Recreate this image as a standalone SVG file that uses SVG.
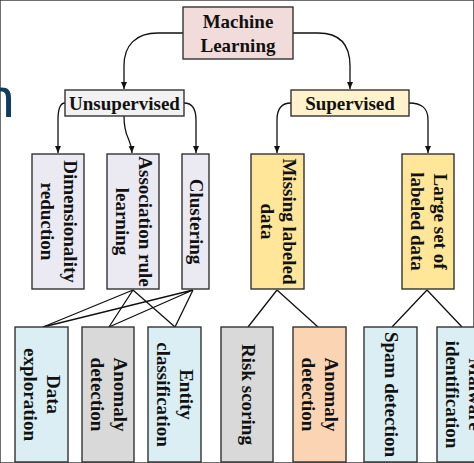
<svg xmlns="http://www.w3.org/2000/svg" width="474" height="463" viewBox="0 0 474 463">
<defs>
<marker id="arr" markerUnits="userSpaceOnUse" markerWidth="8" markerHeight="8" viewBox="0 0 8 8" refX="7" refY="4" orient="auto">
<path d="M0,1 L7,4 L0,7 Z" fill="#111"/>
</marker>
<style>
rect{stroke:#333;stroke-width:1.4}
text{font-family:"Liberation Serif","Times New Roman",serif;font-weight:bold;font-size:19px;fill:#111;text-anchor:middle}
.c path{fill:none;stroke:#111;stroke-width:1.3}
.ml{fill:#f2dcdb}.un{fill:#f2f2f2}.su{fill:#fff2cc}.lv{fill:#ebe9f1}.gd{fill:#ffe699}.bl{fill:#daeef3}.gy{fill:#d9d9d9}.pc{fill:#fbd4b4}
</style>
</defs>
<rect width="474" height="463" fill="#fff" stroke="none"/>
<text x="-16.5" y="117" style="font-family:'Liberation Sans',Arial,sans-serif;font-weight:normal;font-size:56px;fill:#0f3c5f;text-anchor:start">n</text>
<g class="c" id="connectors">
<path d="M183,33 L158,33 C136,33 124,45 124,66 L124,89" marker-end="url(#arr)"/>
<path d="M293,33 L318,33 C340,33 350,45 350,66 L350,89" marker-end="url(#arr)"/>
<path d="M65,103 C60,103 58,108 58,120 L58,153" marker-end="url(#arr)"/>
<path d="M124,116 C124,140 131,136 132,153" marker-end="url(#arr)"/>
<path d="M184,103 C192,103 196,108 196,120 L196,153" marker-end="url(#arr)"/>
<path d="M291,103 C282,103 277,108 277,120 L277,153" marker-end="url(#arr)"/>
<path d="M409,103 C422,103 428,108 428,120 L428,153" marker-end="url(#arr)"/>
<path d="M133,290 L43,327 M133,290 L109,327 M133,290 L175,327"/>
<path d="M193,290 L43,327 M193,290 L109,327 M193,290 L175,327"/>
<path d="M277,290 L248,327 M277,290 L318,327"/>
<path d="M427,290 L392,327 M427,290 L462,327"/>
</g>
<g id="machine-learning"><rect class="ml" x="183" y="7" width="110" height="52"/><text x="238" y="28">Machine</text><text x="238" y="51.5">Learning</text></g>
<g id="unsupervised"><rect class="un" x="65" y="90" width="119" height="26"/><text x="124.5" y="109.5">Unsupervised</text></g>
<g id="supervised"><rect class="su" x="291" y="90" width="118" height="26"/><text x="350" y="109.5">Supervised</text></g>
<g id="dimensionality"><rect class="lv" x="32" y="154" width="52" height="135"/><text transform="rotate(90 58 221.5)" x="58" y="221.5"><tspan x="58" dy="-5.5">Dimensionality</tspan><tspan x="58" dy="23">reduction</tspan></text></g>
<g id="association"><rect class="lv" x="107" y="154" width="52" height="135"/><text transform="rotate(90 133 221.5)" x="133" y="221.5"><tspan x="133" dy="-5.5">Association rule</tspan><tspan x="133" dy="23">learning</tspan></text></g>
<g id="clustering"><rect class="lv" x="182" y="154" width="27" height="135"/><text transform="rotate(90 195.5 221.5)" x="195.5" y="227">Clustering</text></g>
<g id="missing"><rect class="gd" x="251" y="154" width="53" height="135"/><text transform="rotate(90 277.5 221.5)" x="277.5" y="221.5"><tspan x="277.5" dy="-5.5">Missing labeled</tspan><tspan x="277.5" dy="22.5">data</tspan></text></g>
<g id="large-set"><rect class="gd" x="402" y="154" width="52" height="135"/><text transform="rotate(90 428 221.5)" x="428" y="221.5"><tspan x="428" dy="-5.5">Large set of</tspan><tspan x="428" dy="23">labeled data</tspan></text></g>
<g id="data-exploration"><rect class="bl" x="15" y="327" width="53" height="135"/><text transform="rotate(90 41.5 394.5)" x="41.5" y="394.5"><tspan x="41.5" dy="-5.5">Data</tspan><tspan x="41.5" dy="23">exploration</tspan></text></g>
<g id="anomaly-1"><rect class="gy" x="82" y="327" width="52" height="135"/><text transform="rotate(90 108 394.5)" x="108" y="394.5"><tspan x="108" dy="-5.5">Anomaly</tspan><tspan x="108" dy="23">detection</tspan></text></g>
<g id="entity"><rect class="bl" x="148" y="327" width="53" height="135"/><text transform="rotate(90 174.5 394.5)" x="174.5" y="394.5"><tspan x="174.5" dy="-5.5">Entity</tspan><tspan x="174.5" dy="23">classification</tspan></text></g>
<g id="risk"><rect class="gy" x="221" y="327" width="52" height="135"/><text transform="rotate(90 247 394.5)" x="247" y="400">Risk scoring</text></g>
<g id="anomaly-2"><rect class="pc" x="293" y="327" width="53" height="135"/><text transform="rotate(90 319.5 394.5)" x="319.5" y="394.5"><tspan x="319.5" dy="-5.5">Anomaly</tspan><tspan x="319.5" dy="23">detection</tspan></text></g>
<g id="spam"><rect class="bl" x="364" y="327" width="53" height="135"/><text transform="rotate(90 390.5 394.5)" x="390.5" y="400">Spam detection</text></g>
<g id="malware"><rect class="bl" x="437" y="327" width="52" height="135"/><text transform="rotate(90 463 394.5)" x="463" y="394.5"><tspan x="463" dy="-5.5">Malware</tspan><tspan x="463" dy="23">identification</tspan></text></g>
</svg>
